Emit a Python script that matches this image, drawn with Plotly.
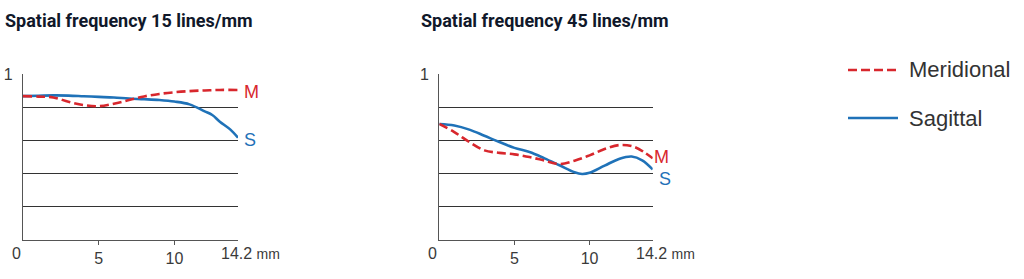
import plotly.graph_objects as go

# ---- data ----
x_left_m = [0, 1, 2, 3, 4, 5, 6, 7, 8, 9, 10, 11, 12, 13, 14.2]
y_left_m = [0.867, 0.864, 0.859, 0.833, 0.813, 0.806, 0.821, 0.843, 0.865, 0.880, 0.890, 0.897, 0.901, 0.904, 0.904]
x_left_s = [0, 1, 2, 3, 4, 5, 6, 7, 8, 9, 10, 11, 12, 12.5, 13, 13.7, 14.2]
y_left_s = [0.867, 0.869, 0.871, 0.870, 0.866, 0.862, 0.858, 0.852, 0.848, 0.843, 0.834, 0.817, 0.775, 0.753, 0.713, 0.665, 0.616]

x_right_m = [0, 1, 2, 3, 4, 5, 6, 7, 8, 9, 10, 11, 12, 13, 14.2]
y_right_m = [0.699, 0.650, 0.590, 0.540, 0.525, 0.516, 0.500, 0.478, 0.458, 0.478, 0.510, 0.548, 0.572, 0.560, 0.492]
x_right_s = [0, 1, 2, 3, 4, 5, 6, 7, 8, 9, 9.5, 10, 11, 12, 12.8, 13.5, 14.2]
y_right_s = [0.699, 0.690, 0.665, 0.628, 0.590, 0.555, 0.530, 0.492, 0.450, 0.408, 0.398, 0.405, 0.448, 0.490, 0.503, 0.480, 0.425]

titles = ["Spatial frequency 15 lines/mm", "Spatial frequency 45 lines/mm"]
x_ticks = [5, 10]
x_tick_text = ["5", "10"]
grid_vals = [0.2, 0.4, 0.6, 0.8]
legend_names = ["Meridional", "Sagittal"]

RED = "#d8272d"
BLUE = "#1f72b8"
TXT = "#3a3a3a"
W, H = 1024, 279

fig = go.Figure()

line_m = dict(color=RED, width=2.6, dash="9px,4px", shape="spline", smoothing=1.0)
line_s = dict(color=BLUE, width=2.6, shape="spline", smoothing=1.0)

fig.add_trace(go.Scatter(x=x_left_s, y=y_left_s, mode="lines", line=line_s, xaxis="x", yaxis="y", showlegend=False))
fig.add_trace(go.Scatter(x=x_left_m, y=y_left_m, mode="lines", line=line_m, xaxis="x", yaxis="y", showlegend=False))
fig.add_trace(go.Scatter(x=x_right_s, y=y_right_s, mode="lines", line=line_s, xaxis="x2", yaxis="y2", showlegend=False))
fig.add_trace(go.Scatter(x=x_right_m, y=y_right_m, mode="lines", line=line_m, xaxis="x2", yaxis="y2", showlegend=False))

ydom = [1 - 240 / H, 1 - 74 / H]
xdom1 = [23 / W, 238 / W]
xdom2 = [439.3 / W, 652.7 / W]

def xax(dom, anchor):
    return dict(domain=dom, anchor=anchor, range=[0, 14.2], showline=True, linecolor="#555555",
                linewidth=1.2, ticks="outside", ticklen=4, tickcolor="#555555", tickwidth=1.2,
                tickvals=x_ticks, ticktext=x_tick_text, showgrid=False, zeroline=False, automargin=False,
                tickfont=dict(family="Liberation Sans, Arial", size=16, color=TXT), fixedrange=True)

def yax(anchor):
    return dict(domain=ydom, anchor=anchor, range=[0, 1], showline=True, linecolor="#555555",
                linewidth=1.2, ticks="", tickvals=[1], ticktext=["1"], showgrid=False, zeroline=False,
                ticklabelstandoff=6, automargin=False,
                tickfont=dict(family="Liberation Sans, Arial", size=16, color=TXT),
                minor=dict(tickvals=grid_vals, showgrid=True, gridcolor="#333333", gridwidth=1, ticks=""),
                fixedrange=True)

fig.update_layout(
    width=W, height=H, margin=dict(l=0, r=0, t=0, b=0, pad=0), autosize=False,
    paper_bgcolor="white", plot_bgcolor="white",
    xaxis=xax(xdom1, "y"), yaxis=yax("x"),
    xaxis2=xax(xdom2, "y2"), yaxis2=yax("x2"),
    showlegend=False,
)

ann = []
tfont = dict(family="Roboto, Liberation Sans, Arial", size=18, color="#10182a", weight=700)
ann.append(dict(text=titles[0], xref="paper", yref="paper", x=3 / W, y=1 - 20 / H,
                xanchor="left", yanchor="middle", showarrow=False, font=tfont))
ann.append(dict(text=titles[1], xref="paper", yref="paper", x=419 / W, y=1 - 20 / H,
                xanchor="left", yanchor="middle", showarrow=False, font=tfont))

tickf = dict(family="Liberation Sans, Arial", size=16, color=TXT)
for xr in ["x", "x2"]:
    ann.append(dict(text="0", xref=xr, yref="paper", x=0, y=1 - 253 / H, xshift=-7,
                    xanchor="center", yanchor="middle", showarrow=False, font=tickf))
    ann.append(dict(text="14.2 <span style='font-size:14px'>mm</span>", xref=xr, yref="paper", x=14.2,
                    y=1 - 253 / H, xshift=-19, xanchor="left", yanchor="middle", showarrow=False, font=tickf))

# end labels
lab_font_m = dict(family="Liberation Sans, Arial", size=18, color=RED)
lab_font_s = dict(family="Liberation Sans, Arial", size=18, color=BLUE)
ann.append(dict(text="M", xref="x", yref="y", x=14.2, y=y_left_m[-1] - 0.011, xshift=13, showarrow=False,
                xanchor="center", yanchor="middle", font=lab_font_m))
ann.append(dict(text="S", xref="x", yref="y", x=14.2, y=y_left_s[-1] - 0.014, xshift=12, showarrow=False,
                xanchor="center", yanchor="middle", font=lab_font_s))
ann.append(dict(text="M", xref="x2", yref="y2", x=14.2, y=y_right_m[-1] + 0.01, xshift=9, showarrow=False,
                xanchor="center", yanchor="middle", font=lab_font_m))
ann.append(dict(text="S", xref="x2", yref="y2", x=14.2, y=y_right_s[-1] - 0.059, xshift=12, showarrow=False,
                xanchor="center", yanchor="middle", font=lab_font_s))

# legend
leg_font = dict(family="Liberation Sans, Arial", size=22, color="#333333")
ann.append(dict(text=legend_names[0], xref="paper", yref="paper", x=907 / W, y=1 - 70 / H,
                xanchor="left", yanchor="middle", showarrow=False, font=leg_font))
ann.append(dict(text=legend_names[1], xref="paper", yref="paper", x=907 / W, y=1 - 118 / H,
                xanchor="left", yanchor="middle", showarrow=False, font=leg_font))
shapes = [
    dict(type="line", xref="paper", yref="paper", x0=848 / W, x1=898 / W, y0=1 - 70 / H, y1=1 - 70 / H,
         line=dict(color=RED, width=2.6, dash="9px,4px")),
    dict(type="line", xref="paper", yref="paper", x0=848 / W, x1=898 / W, y0=1 - 118 / H, y1=1 - 118 / H,
         line=dict(color=BLUE, width=2.6)),
]
fig.update_layout(annotations=ann, shapes=shapes)

fig.write_html("out.html")
